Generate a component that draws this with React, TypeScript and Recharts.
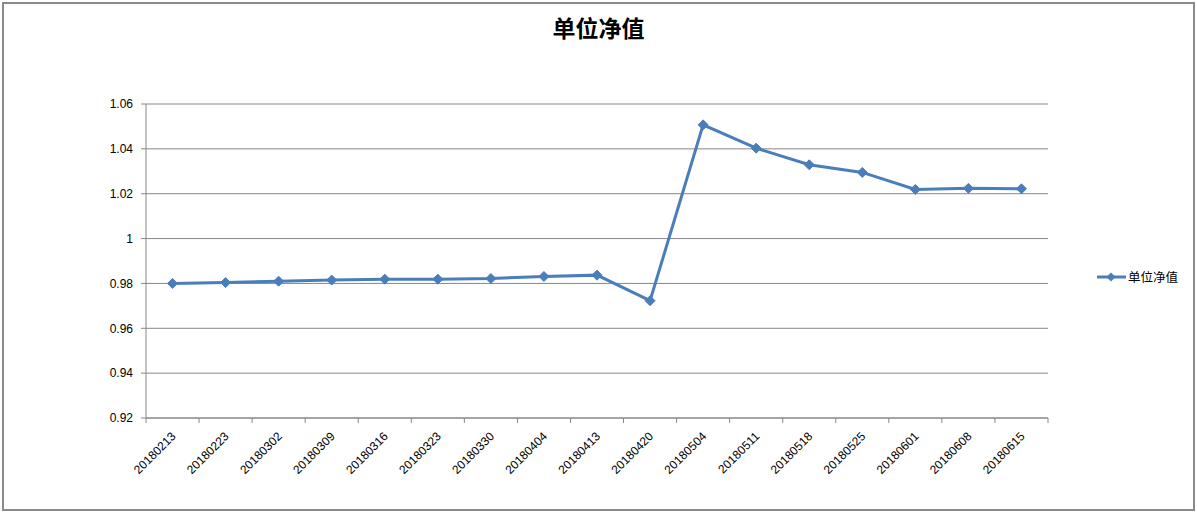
import { LineChart, Line, XAxis, YAxis, CartesianGrid, Legend } from 'recharts'

const dates = [
    '20180213', '20180223', '20180302', '20180309', '20180316', '20180323',
    '20180330', '20180404', '20180413', '20180420', '20180504', '20180511',
    '20180518', '20180525', '20180601', '20180608', '20180615',
]

const navValues = [
    0.9800, 0.9804, 0.9810, 0.9815, 0.9819, 0.9819, 0.9822, 0.9831, 0.9837,
    0.9723, 1.0507, 1.0403, 1.0329, 1.0295, 1.0219, 1.0224, 1.0222,
]

const yTicks = [0.92, 0.94, 0.96, 0.98, 1, 1.02, 1.04, 1.06]

const seriesName = '单位净值'

const chartData = dates.map((d, i) => ({ name: d, value: navValues[i] }))

const W = 1197
const H = 514
const PLOT_LEFT = 146
const PLOT_RIGHT = 1048
const PLOT_TOP = 104
const PLOT_BOTTOM = 418
const BLUE = '#4a7ebb'
const GRAY = '#878787'

const bandWidth = (PLOT_RIGHT - PLOT_LEFT) / dates.length

const Diamond = (props: any) => {
    const { cx, cy, index } = props
    if (cx == null || cy == null) return null
    const r = 5
    return (
        <polygon
            key={`d-${index}`}
            points={`${cx},${cy - r} ${cx + r},${cy} ${cx},${cy + r} ${cx - r},${cy}`}
            fill={BLUE}
            stroke={BLUE}
            strokeWidth={1}
        />
    )
}

const DateTick = (props: any) => {
    const { x, y, payload, index } = props
    const left = x - bandWidth / 2
    const tx = x + 4
    const ty = y + 19
    return (
        <g>
            <line x1={left} y1={y} x2={left} y2={y + 5} stroke={GRAY} />
            {index === dates.length - 1 && (
                <line x1={x + bandWidth / 2} y1={y} x2={x + bandWidth / 2} y2={y + 5} stroke={GRAY} />
            )}
            <text
                x={tx}
                y={ty}
                textAnchor='end'
                fill='#000'
                fontSize={12}
                fontFamily='Liberation Sans, Arial, sans-serif'
                transform={`rotate(-45 ${tx} ${ty})`}
            >
                {payload.value}
            </text>
        </g>
    )
}

const LegendBox = () => (
    <div style={{ display: 'flex', alignItems: 'center', fontFamily: '"Noto Sans CJK SC", sans-serif', fontSize: 12.5, color: '#000' }}>
        <svg width={31} height={12}>
            <line x1={0} y1={6} x2={29} y2={6} stroke={BLUE} strokeWidth={3} />
            <polygon points='14,1.5 18.5,6 14,10.5 9.5,6' fill={BLUE} />
        </svg>
        <span>{seriesName}</span>
    </div>
)

export default function App() {
    return (
        <div style={{ position: 'absolute', left: 0, top: 0, width: W, height: H, background: '#fff' }}>
            <div
                style={{
                    position: 'absolute',
                    left: 2,
                    top: 2,
                    width: 1193,
                    height: 509,
                    boxSizing: 'border-box',
                    border: '2px solid #8a8a8a',
                }}
            />
            <div
                style={{
                    position: 'absolute',
                    left: 0,
                    top: 12,
                    width: W,
                    textAlign: 'center',
                    fontFamily: '"Noto Sans CJK SC", sans-serif',
                    fontWeight: 'bold',
                    fontSize: 23,
                    lineHeight: '30px',
                    color: '#000',
                }}
            >
                {seriesName}
            </div>
            <div style={{ position: 'absolute', left: 0, top: 0 }}>
                <LineChart
                    width={W}
                    height={H}
                    data={chartData}
                    margin={{ top: PLOT_TOP, right: W - PLOT_RIGHT, left: 0, bottom: 0 }}
                >
                    <CartesianGrid vertical={false} stroke={GRAY} strokeWidth={1} />
                    <XAxis
                        dataKey='name'
                        scale='band'
                        height={H - PLOT_BOTTOM}
                        interval={0}
                        tickLine={false}
                        tickSize={0}
                        tickMargin={0}
                        axisLine={{ stroke: GRAY }}
                        tick={<DateTick />}
                    />
                    <YAxis
                        width={PLOT_LEFT}
                        domain={[0.92, 1.06]}
                        ticks={yTicks}
                        interval={0}
                        tickSize={5}
                        tickMargin={8}
                        tickLine={{ stroke: GRAY }}
                        axisLine={{ stroke: GRAY }}
                        tick={{ fill: '#000', fontSize: 12, fontFamily: 'Liberation Sans, Arial, sans-serif' }}
                        tickFormatter={(v: number) => String(Number(v.toFixed(2)))}
                    />
                    <Legend
                        verticalAlign='middle'
                        align='center'
                        layout='horizontal'
                        wrapperStyle={{ left: 1097, top: 267, width: 100 }}
                        content={<LegendBox />}
                    />
                    <Line
                        type='linear'
                        dataKey='value'
                        name={seriesName}
                        stroke={BLUE}
                        strokeWidth={3}
                        dot={<Diamond />}
                        activeDot={false}
                        isAnimationActive={false}
                    />
                </LineChart>
            </div>
        </div>
    )
}
